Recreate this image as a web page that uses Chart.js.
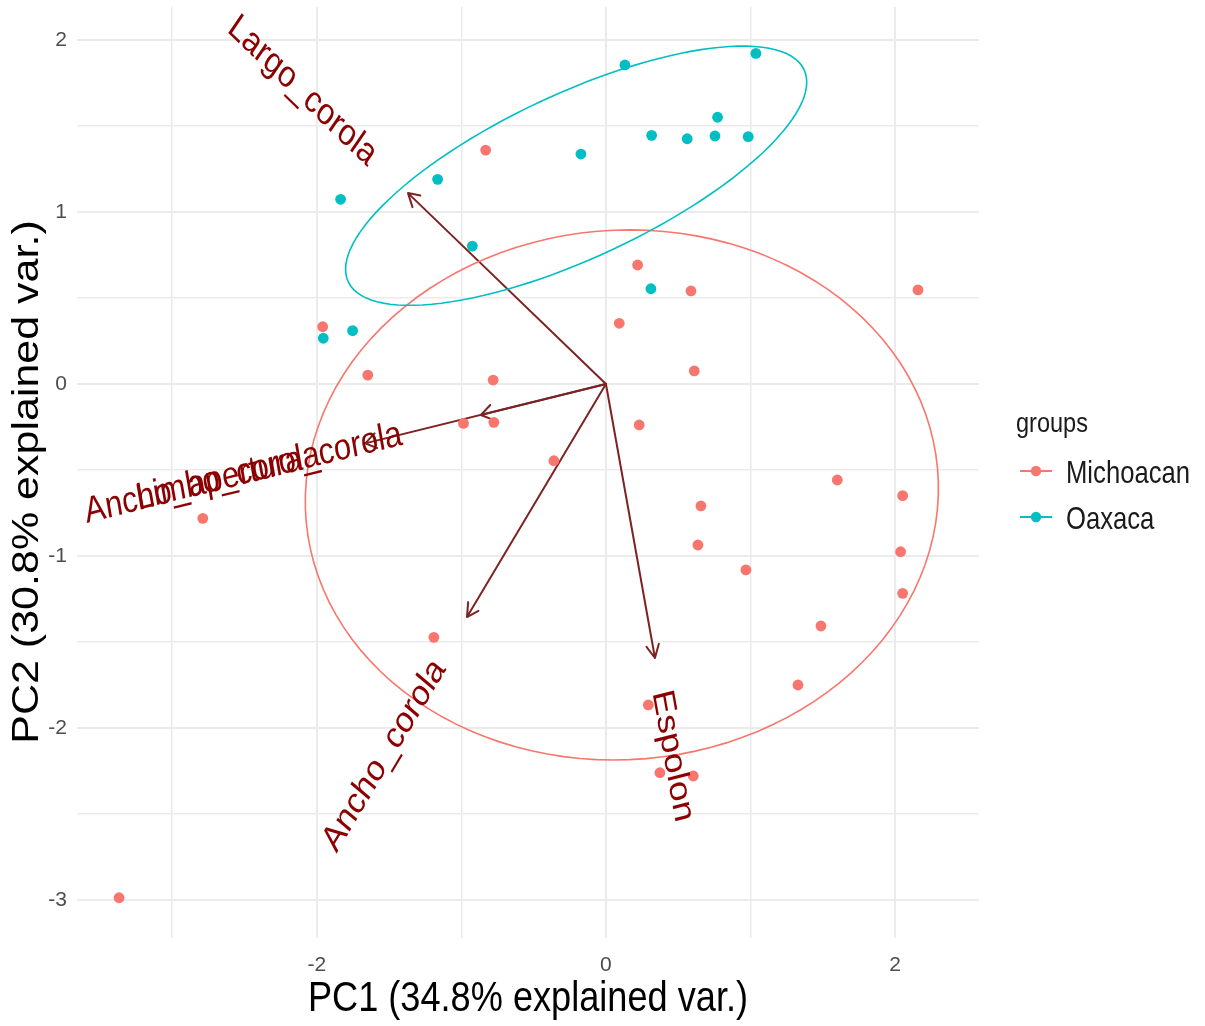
<!DOCTYPE html>
<html>
<head>
<meta charset="utf-8">
<script src="https://cdn.jsdelivr.net/npm/chart.js@4.4.1/dist/chart.umd.min.js"></script>
<style>
  body { margin: 0; background: #ffffff; }
  canvas { display: block; }
</style>
</head>
<body>
<canvas id="pca" width="1205" height="1026"></canvas>
<script>
// --- data ---
const groupNames = ['Michoacan', 'Oaxaca'];
const groupColors = ['#F8766D', '#00BFC4'];

const michoacanPC1 = [-0.832, 0.219, 0.588, 2.158, 0.092, -1.959, -1.647, -0.780, 0.611, -0.985,
                      -0.775, 0.230, -0.360, 1.600, 2.052, -2.788, 0.657, 0.636, 2.038, 0.968,
                      2.052, 1.487, -1.190, 1.328, 0.293, 0.373, 0.604, -3.367];
const michoacanPC2 = [1.360, 0.692, 0.541, 0.547, 0.353, 0.333, 0.052, 0.023, 0.076, -0.229,
                      -0.223, -0.238, -0.446, -0.558, -0.649, -0.781, -0.709, -0.936, -0.975, -1.081,
                      -1.217, -1.407, -1.473, -1.750, -1.866, -2.260, -2.279, -2.987];

const oaxacaPC1 = [0.131, 1.037, 0.772, 0.316, 0.562, 0.754, 0.984, -0.173, -1.164, -1.835,
                   -0.924, 0.311, -1.752, -1.955];
const oaxacaPC2 = [1.855, 1.922, 1.551, 1.446, 1.426, 1.442, 1.438, 1.337, 1.190, 1.074,
                   0.802, 0.554, 0.310, 0.266];

// variable loadings (arrow tips)
const varNames = ['Largo_corola', 'Ancho_apertura_corola', 'Limbo_corola', 'Ancho_corola', 'Espolon'];
const varPC1 = [-1.369, -0.865, -1.665, -0.961, 0.339];
const varPC2 = [1.110, -0.180, -0.345, -1.355, -1.593];

// group ellipses: centre, semi-axes, tilt in degrees
const ellCenterX = [0.110, -0.206];
const ellCenterY = [-0.645, 1.211];
const ellSemiA = [2.19, 1.694];
const ellSemiB = [1.54, 0.491];
const ellTilt = [2, 20.65];

const xTicks = [-3, -2, -1, 0, 1, 2];
const yTicks = [-3, -2.5, -2, -1.5, -1, -0.5, 0, 0.5, 1, 1.5, 2];
const xTitle = 'PC1 (34.8% explained var.)';
const yTitle = 'PC2 (30.8% explained var.)';
const legendTitle = 'groups';

const FONT = "'Liberation Sans', Arial, Helvetica, sans-serif";

function toPoints(xs, ys) {
    return xs.map((v, i) => ({ x: v, y: ys[i] }));
}

// the picture is squeezed horizontally, so text gets the same squeeze
function squeeze(chart) {
    const { x, y } = chart.scales;
    return (x.getPixelForValue(1) - x.getPixelForValue(0)) / (y.getPixelForValue(0) - y.getPixelForValue(1));
}

const biplot = {
    id: 'biplot',
    beforeDatasetsDraw(chart) {
        const { ctx, scales: { x, y } } = chart;
        const sq = squeeze(chart);
        const x0 = x.getPixelForValue(0), y0 = y.getPixelForValue(0);
        ctx.save();
        ctx.strokeStyle = '#7d2323';
        ctx.lineWidth = 2;
        ctx.lineCap = 'round';
        varNames.forEach((name, i) => {
            const px = x.getPixelForValue(varPC1[i]);
            const py = y.getPixelForValue(varPC2[i]);
            const phi = Math.atan2(y0 - py, (x0 - px) / sq);
            ctx.beginPath();
            ctx.moveTo(x0, y0);
            ctx.lineTo(px, py);
            [-Math.PI / 6, Math.PI / 6].forEach(d => {
                ctx.moveTo(px + 15 * Math.cos(phi + d) * sq, py + 15 * Math.sin(phi + d));
                ctx.lineTo(px, py);
            });
            ctx.stroke();
        });
        ctx.restore();
    },
    afterDatasetsDraw(chart) {
        const { ctx, scales: { x, y } } = chart;
        const sq = squeeze(chart);
        ctx.save();
        // ellipses
        ctx.lineWidth = 1.6;
        ellCenterX.forEach((cx, g) => {
            const th = ellTilt[g] * Math.PI / 180;
            ctx.strokeStyle = groupColors[g];
            ctx.beginPath();
            for (let k = 0; k <= 120; k++) {
                const t = k / 120 * 2 * Math.PI;
                const ex = cx + ellSemiA[g] * Math.cos(t) * Math.cos(th) - ellSemiB[g] * Math.sin(t) * Math.sin(th);
                const ey = ellCenterY[g] + ellSemiA[g] * Math.cos(t) * Math.sin(th) + ellSemiB[g] * Math.sin(t) * Math.cos(th);
                const px = x.getPixelForValue(ex), py = y.getPixelForValue(ey);
                if (k === 0) ctx.moveTo(px, py); else ctx.lineTo(px, py);
            }
            ctx.stroke();
        });
        // variable names
        ctx.font = '37px ' + FONT;
        ctx.fillStyle = '#8B0000';
        ctx.textBaseline = 'middle';
        ctx.textAlign = 'left';
        varNames.forEach((name, i) => {
            const vx = varPC1[i], vy = varPC2[i];
            const angle = Math.atan(vy / vx);
            const hjust = (1 - 1.5 * Math.sign(vx)) / 2;
            const w = ctx.measureText(name).width;
            ctx.save();
            ctx.translate(x.getPixelForValue(vx), y.getPixelForValue(vy));
            ctx.scale(sq, 1);
            ctx.rotate(-angle);
            ctx.fillText(name, -hjust * w, 0);
            ctx.restore();
        });
        ctx.restore();
    },
    afterDraw(chart) {
        const { ctx, chartArea: area } = chart;
        const sq = squeeze(chart);
        ctx.save();
        ctx.fillStyle = '#000000';
        ctx.textBaseline = 'middle';
        ctx.textAlign = 'center';
        ctx.font = '43px ' + FONT;
        ctx.save();
        ctx.translate((area.left + area.right) / 2, 999);
        ctx.scale(sq, 1);
        ctx.fillText(xTitle, 0, 0);
        ctx.restore();
        ctx.save();
        ctx.translate(28, 482);
        ctx.scale(sq, 1);
        ctx.rotate(-Math.PI / 2);
        ctx.fillText(yTitle, 0, 0);
        ctx.restore();

        // legend
        ctx.textAlign = 'left';
        ctx.textBaseline = 'alphabetic';
        ctx.font = '28px ' + FONT;
        ctx.fillStyle = '#1a1a1a';
        ctx.save();
        ctx.translate(1016, 432);
        ctx.scale(sq, 1);
        ctx.fillText(legendTitle, 0, 0);
        ctx.restore();
        ctx.font = '30.5px ' + FONT;
        groupNames.forEach((name, g) => {
            const ky = 471 + g * 46;
            ctx.strokeStyle = groupColors[g];
            ctx.lineWidth = 2;
            ctx.beginPath();
            ctx.moveTo(1020, ky);
            ctx.lineTo(1052, ky);
            ctx.stroke();
            ctx.fillStyle = groupColors[g];
            ctx.beginPath();
            ctx.arc(1036, ky, 5.2, 0, 2 * Math.PI);
            ctx.fill();
            ctx.fillStyle = '#1a1a1a';
            ctx.save();
            ctx.translate(1066, ky + 12);
            ctx.scale(sq, 1);
            ctx.fillText(name, 0, 0);
            ctx.restore();
        });
        ctx.restore();
    }
};

const gridColor = '#EBEBEB';

new Chart(document.getElementById('pca'), {
    type: 'scatter',
    data: {
        datasets: [
            {
                label: groupNames[0],
                data: toPoints(michoacanPC1, michoacanPC2),
                backgroundColor: groupColors[0],
                borderWidth: 0,
                pointRadius: 5.4,
                order: 2
            },
            {
                label: groupNames[1],
                data: toPoints(oaxacaPC1, oaxacaPC2),
                backgroundColor: groupColors[1],
                borderWidth: 0,
                pointRadius: 5.4,
                order: 1
            }
        ]
    },
    options: {
        responsive: false,
        animation: false,
        devicePixelRatio: 1,
        layout: { autoPadding: false, padding: { top: 7, right: 226, left: 0, bottom: 0 } },
        plugins: {
            legend: { display: false },
            tooltip: { enabled: false }
        },
        scales: {
            x: {
                type: 'linear',
                min: -3.658,
                max: 2.580,
                afterBuildTicks: s => { s.ticks = xTicks.map(v => ({ value: v })); },
                afterFit: s => { s.height = 88; s.paddingLeft = 0; s.paddingRight = 0; },
                ticks: {
                    color: '#4D4D4D',
                    font: { family: FONT, size: 21 },
                    padding: 15,
                    maxRotation: 0,
                    autoSkip: false,
                    callback: v => (v % 2 === 0 ? String(v) : '')
                },
                grid: {
                    color: gridColor,
                    lineWidth: c => (c.tick && c.tick.value % 2 === 0 ? 2 : 1.5),
                    drawTicks: false
                },
                border: { display: false }
            },
            y: {
                type: 'linear',
                min: -3.221,
                max: 2.192,
                afterBuildTicks: s => { s.ticks = yTicks.map(v => ({ value: v })); },
                afterFit: s => { s.width = 77; s.paddingTop = 0; s.paddingBottom = 0; },
                ticks: {
                    color: '#4D4D4D',
                    font: { family: FONT, size: 21 },
                    padding: 10,
                    autoSkip: false,
                    callback: v => (Number.isInteger(v) ? String(v) : '')
                },
                grid: {
                    color: gridColor,
                    lineWidth: c => (c.tick && Number.isInteger(c.tick.value) ? 2 : 1.5),
                    drawTicks: false
                },
                border: { display: false }
            }
        }
    },
    plugins: [biplot]
});
</script>
</body>
</html>
